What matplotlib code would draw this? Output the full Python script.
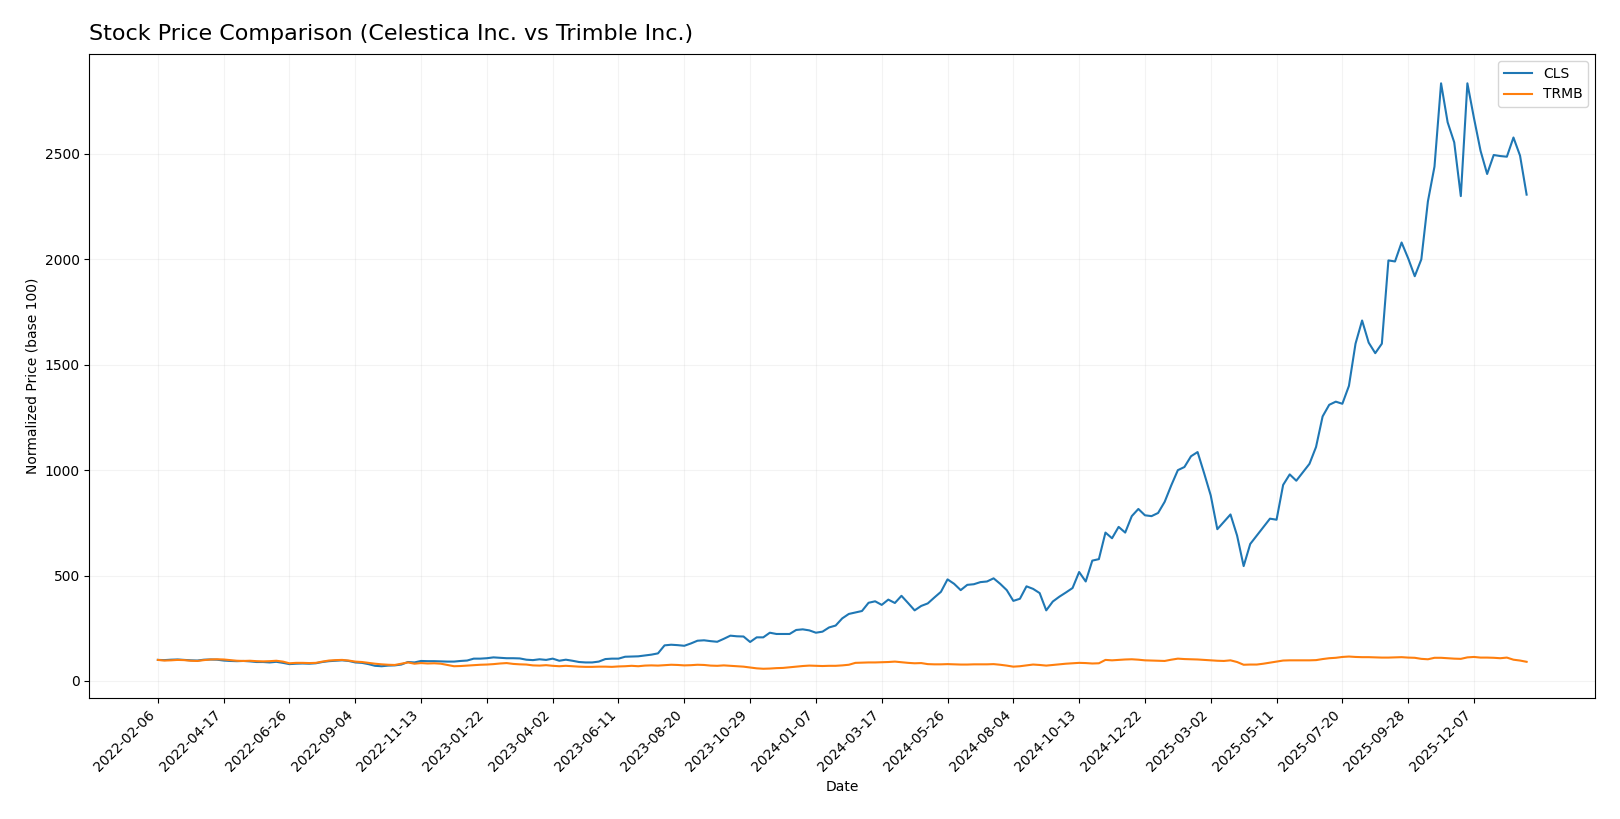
import pandas as pd
import matplotlib
matplotlib.use("Agg")
import matplotlib.pyplot as plt

# weekly closes, normalized to 100 at the first week
start_date = "2022-02-06"

cls_values = [
    100, 99, 101, 102, 100, 98, 97, 101, 102, 101,
    97, 95, 94, 95, 93, 90, 90, 88, 91, 86,
    80, 82, 83, 82, 84, 90, 94, 96, 98, 95,
    88, 86, 80, 72, 70, 73, 74, 78, 90, 88,
    95, 94, 94, 93, 92, 92, 95, 97, 106, 106,
    108, 112, 110, 108, 108, 107, 101, 99, 103, 100,
    106, 96, 101, 96, 90, 88, 88, 92, 104, 106,
    106, 115, 116, 117, 121, 125, 131, 169, 172, 170,
    167, 178, 191, 193, 189, 186, 200, 215, 212, 211,
    185, 207, 207, 229, 223, 223, 223, 242, 245, 240,
    229, 234, 254, 263, 297, 318, 325, 332, 371, 378,
    361, 386, 370, 404, 370, 335, 356, 368, 396, 423,
    482, 461, 431, 456, 459, 469, 472, 487, 461, 431,
    380, 390, 449, 437, 417, 335, 377, 400, 420, 441,
    517, 472, 571, 578, 704, 677, 731, 704, 782, 816,
    786, 782, 797, 850, 928, 1000, 1015, 1066, 1086, 985,
    880, 720, 755, 790, 690, 545, 650, 690, 730, 770,
    765, 930, 980, 950, 990, 1030, 1110, 1255, 1310, 1325,
    1315, 1400, 1600, 1710, 1605, 1555, 1600, 1995, 1990, 2080,
    2005, 1920, 2000, 2275, 2440, 2835, 2650, 2555, 2300, 2835,
    2670, 2515, 2405, 2495, 2490, 2487, 2578, 2492, 2307,
]

trmb_values = [
    100, 97, 98, 100, 99, 96, 95, 99, 102, 103,
    102, 99, 96, 95, 96, 94, 93, 94, 96, 92,
    84, 86, 86, 85, 86, 92, 97, 99, 100, 97,
    92, 90, 86, 82, 79, 77, 76, 82, 88, 82,
    85, 83, 84, 82, 76, 70, 71, 73, 75, 77,
    78, 80, 83, 85, 81, 79, 78, 74, 73, 75,
    72, 70, 72, 70, 68, 67, 67, 68, 68, 67,
    69, 70, 72, 70, 73, 74, 73, 75, 77, 76,
    74, 75, 77, 76, 73, 72, 74, 72, 70, 68,
    64, 60, 58, 59, 61, 62, 65, 68, 71, 73,
    72, 71, 72, 72, 74, 77, 86, 87, 88, 88,
    89, 90, 92, 89, 86, 84, 85, 80, 79, 79,
    80, 79, 78, 78, 79, 79, 79, 80, 77, 73,
    68, 70, 74, 78, 76, 73, 76, 79, 82, 84,
    86, 85, 83, 84, 100, 98, 100, 102, 103, 101,
    98, 97, 96, 95, 101, 106, 104, 103, 102, 100,
    98, 96, 95, 98, 90, 77, 78, 78, 82, 87,
    92, 97, 98, 98, 98, 98, 99, 104, 108, 110,
    114, 116, 114, 113, 113, 112, 111, 111, 112, 113,
    111, 110, 105, 103, 110, 110, 108, 106, 105, 112,
    114, 111, 111, 110, 108, 111, 101, 97, 91,
]

dates = pd.date_range(start_date, periods=len(cls_values), freq="7D")
df = pd.DataFrame({"CLS": cls_values, "TRMB": trmb_values}, index=dates)

fig = plt.figure(figsize=(16.2, 8.19), dpi=100)
ax = fig.add_axes([0.0552, 0.1477, 0.9294, 0.7863])

ax.plot(df.index, df["CLS"], label="CLS", linewidth=1.5)
ax.plot(df.index, df["TRMB"], label="TRMB", linewidth=1.5)

ax.set_title("Stock Price Comparison (Celestica Inc. vs Trimble Inc.)",
             fontsize=16, loc="left", pad=10)
ax.set_xlabel("Date")
ax.set_ylabel("Normalized Price (base 100)")

tick_dates = df.index[::10]
ax.set_xticks(tick_dates)
ax.set_xticklabels([d.strftime("%Y-%m-%d") for d in tick_dates],
                   rotation=45, ha="right")

ax.grid(True, alpha=0.15)
ax.legend(loc="upper right")

plt.savefig("out.png", dpi=100)
